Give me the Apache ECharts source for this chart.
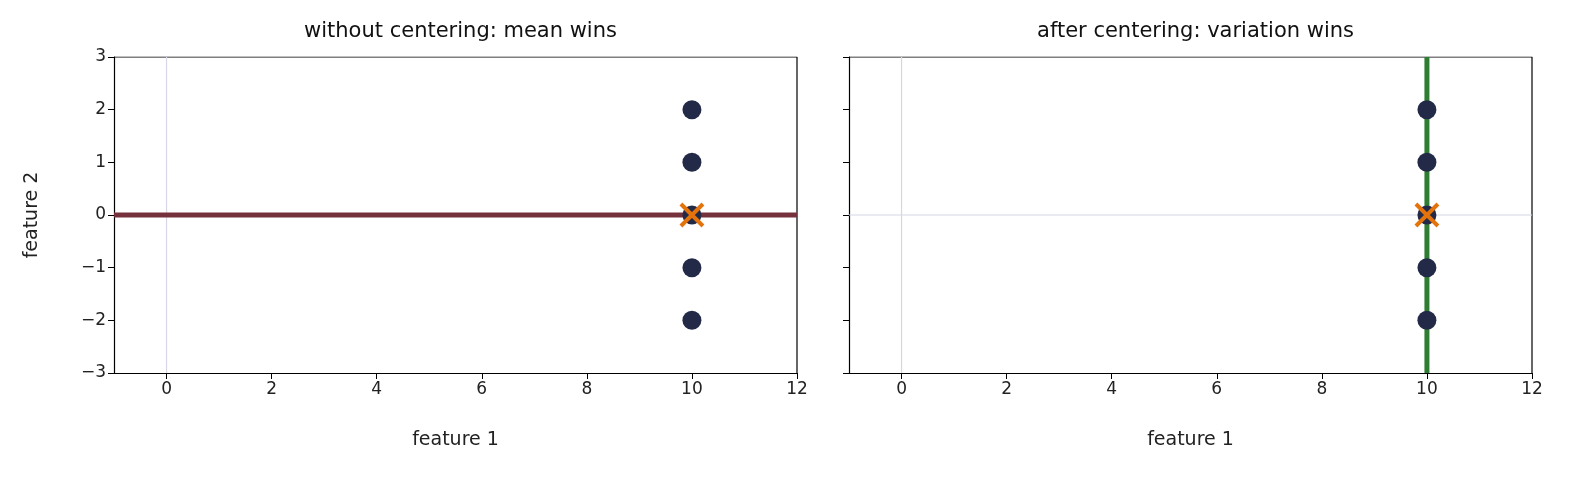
<!DOCTYPE html>
<html><head><meta charset="utf-8">
<script src="https://cdn.jsdelivr.net/npm/echarts@6/dist/echarts.min.js"></script>
<style>html,body{margin:0;background:#fff}#c{width:1595px;height:482px}</style>
</head><body><div id="c"></div>
<script>
const titles = ['without centering: mean wins', 'after centering: variation wins'];
const pointsX = [10, 10, 10, 10, 10];
const pointsY = [2, 1, 0, -1, -2];
const meanPoint = [10, 0];
const xTicks = [0, 2, 4, 6, 8, 10, 12];
const yTicks = [-3, -2, -1, 0, 1, 2, 3];
const leftLine = [[-1, 0], [12, 0]];
const rightLine = [[10, -3], [10, 3]];

const font = 'DejaVu Sans';
const grids = [
  {left: 114, top: 57, width: 683, height: 316},
  {left: 849, top: 57, width: 683, height: 316}
];
function xAxis(i){return {gridIndex:i,type:'value',min:-1,max:12,name:'feature 1',nameLocation:'middle',nameGap:58,
  nameTextStyle:{fontFamily:font,fontSize:19,color:'#222'},
  axisLine:{onZero:false,lineStyle:{color:'#000',width:1.2}},splitLine:{show:false},
  axisTick:{customValues:xTicks,length:6,lineStyle:{color:'#000'}},
  axisLabel:{customValues:xTicks,fontFamily:font,fontSize:17,color:'#222',margin:8}};}
function yAxis(i){return {gridIndex:i,type:'value',min:-3,max:3,interval:1,
  name:i===0?'feature 2':'',nameLocation:'middle',nameGap:72,nameTextStyle:{fontFamily:font,fontSize:19,color:'#222'},
  axisLine:{onZero:false,lineStyle:{color:'#000',width:1.2}},splitLine:{show:false},
  axisTick:{length:6,lineStyle:{color:'#000'}},
  axisLabel:{show:i===0,fontFamily:font,fontSize:17,color:'#222',margin:8,
    formatter:v=>v<0?'\u2212'+(-v):''+v}};}
const frame = (i)=>[{xAxisIndex:i,yAxisIndex:i,type:'line',data:[[-1,3],[12,3],[12,-3]],symbol:'none',silent:true,
  lineStyle:{color:'#000',width:1.2},z:1}];
const pts = pointsX.map((x,k)=>[x,pointsY[k]]);
const series = [];
for (let i=0;i<2;i++){
  series.push(...frame(i));
  series.push({xAxisIndex:i,yAxisIndex:i,type:'line',data:[[0,-3],[0,3]],symbol:'none',silent:true,lineStyle:{color:'#d6d6e6',width:1.2},z:1});
  series.push({xAxisIndex:i,yAxisIndex:i,type:'line',data:[[-1,0],[12,0]],symbol:'none',silent:true,lineStyle:{color:'#d6d6e6',width:1.2},z:1});
  series.push({xAxisIndex:i,yAxisIndex:i,type:'line',data:i===0?leftLine:rightLine,symbol:'none',silent:true,
    lineStyle:{color:i===0?'#76323c':'#2f7d32',width:5},z:2});
  series.push({xAxisIndex:i,yAxisIndex:i,type:'scatter',data:pts,symbolSize:19,itemStyle:{color:'#232a48',opacity:1},z:3});
  series.push({xAxisIndex:i,yAxisIndex:i,type:'scatter',data:[meanPoint],symbol:'path://M0,0L10,10M10,0L0,10',symbolSize:22,
    itemStyle:{color:'none',borderColor:'#e5730c',borderWidth:4,opacity:1},z:4});
}
const chart = echarts.init(document.getElementById('c'),null,{renderer:'canvas'});
chart.setOption({
  animation:false,
  title: titles.map((t,i)=>({text:t,left:grids[i].left+grids[i].width/2,top:16,textAlign:'center',
    textStyle:{fontFamily:font,fontSize:21,fontWeight:'normal',color:'#111'}})),
  grid:grids,
  xAxis:[xAxis(0),xAxis(1)],
  yAxis:[yAxis(0),yAxis(1)],
  series
});
</script></body></html>
